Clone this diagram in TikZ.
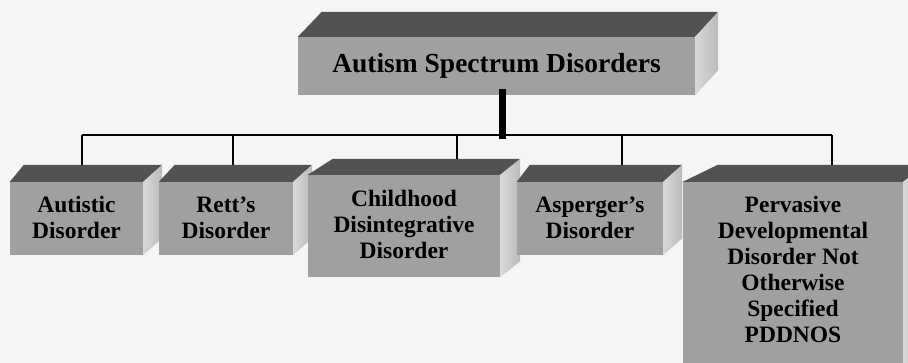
\documentclass[tikz,border=0pt]{standalone}
\usepackage{fontspec}
\setmainfont{Liberation Serif}
\usetikzlibrary{calc}
\definecolor{bgc}{HTML}{F5F5F5}
\definecolor{frontc}{HTML}{A0A0A0}
\definecolor{topc}{HTML}{525252}
\definecolor{sidec}{HTML}{D4D4D4}
% name, cx, cy, w, h, dxL, dxR, d, text
\newcommand{\mybox}[9]{%
  \node[frontface, minimum width=#4, minimum height=#5] (#1) at (#2,#3) {};
  \fill[topface] (#1.north west) -- ++(#6,-#8) -- ($(#1.north east)+(#7,-#8)$) -- (#1.north east) -- cycle;
  \shade[sideface] (#1.north east) -- ++(#7,-#8) -- ($(#1.south east)+(#7,-#8)$) -- (#1.south east) -- cycle;
}
\begin{document}
\begin{tikzpicture}[x=1pt,y=-1pt,
  frontface/.style={fill=frontc, draw=none, inner sep=0pt},
  label/.style={align=center, inner sep=0pt, font=\bfseries\fontsize{23.5}{26}\selectfont},
  titlelabel/.style={align=center, inner sep=0pt, font=\bfseries\fontsize{27.5}{30}\selectfont},
  topface/.style={fill=topc},
  sideface/.style={left color=sidec!90!white, right color=sidec!88!black},
  bus/.style={line width=2pt, black},
  trunk/.style={line width=7pt, black}]
\fill[bgc] (0,0) rectangle (908,363);
\useasboundingbox (0,0) rectangle (908,363);

% top box
\mybox{asd}{496.5}{66}{397}{58}{24}{23}{25}{}
\node[titlelabel] (asdt) at (496.5,66) {Autism Spectrum Disorders};

% child boxes
\mybox{aut}{76.5}{218.5}{133}{73}{14}{19}{17}{}
\node[label] (autt) at (76.5,217.5) {Autistic\\Disorder};
\mybox{ret}{226}{218.5}{134}{73}{16}{19}{17}{}
\node[label] (rett) at (226,217.5) {Rett’s\\Disorder};
\mybox{chi}{404}{226}{192}{102}{25}{20}{16}{}
\node[label] (chit) at (404,224) {Childhood\\Disintegrative\\Disorder};
\mybox{asp}{590}{218.5}{146}{73}{13}{19}{17}{}
\node[label] (aspt) at (590,217.5) {Asperger’s\\Disorder};
\mybox{pdd}{793}{276}{220}{188}{35}{22}{17}{}
\node[label] (pddt) at (793,269) {Pervasive\\Developmental\\Disorder Not\\Otherwise\\Specified\\PDDNOS};

% connector points
\coordinate (busl) at (82,135);
\coordinate (busr) at (832,135);
\coordinate (bus2) at (233,135);
\coordinate (bus3) at (457,135);
\coordinate (bus4) at (622,135);
\coordinate (autA) at (82,165);
\coordinate (retA) at (233,165);
\coordinate (chiA) at (457,159);
\coordinate (aspA) at (622,165);
\coordinate (pddA) at (832,165);
\coordinate (trunkT) at (502,89);
\coordinate (trunkB) at (502,139);
% connectors
\draw[bus] (busl) -- (busr);
\draw[bus] (busl) -- (autA);
\draw[bus] (bus2) -- (retA);
\draw[bus] (bus3) -- (chiA);
\draw[bus] (bus4) -- (aspA);
\draw[bus] (busr) -- (pddA);
\draw[trunk] (trunkT) -- (trunkB);
\end{tikzpicture}
\end{document}
